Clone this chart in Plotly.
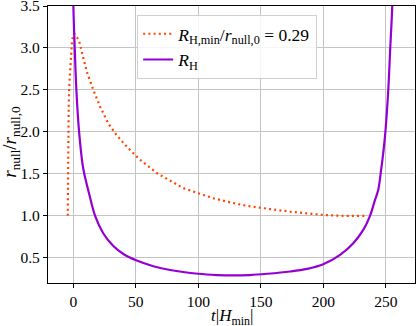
import plotly.graph_objects as go

# values
t_ratio = [-4.5, -4.4, -4.3, -4.1, -3.7, -3.2, -2.1, -1.0, 0.6, 2.2, 4.8, 6.7, 10.7, 16.0, 21.4,
           28.0, 34.7, 42.7, 52.8, 66.7, 77.4, 88.0, 100.0, 112.0, 125.4, 138.7, 157.4,
           173.4, 200.0, 216.0, 234.4]
r_ratio = [1.0, 1.3, 1.6, 2.0, 2.35, 2.58, 2.9, 3.1, 3.17, 3.15, 3.07, 2.96, 2.72, 2.5, 2.30,
           2.10, 1.96, 1.825, 1.675, 1.51, 1.417, 1.33, 1.27, 1.21, 1.16, 1.12, 1.08,
           1.05, 1.01, 1.0, 1.0]

t_rh = [-0.6, 0.0, 1.1, 2.4, 4.6, 7.5, 9.5, 12.0, 17.4, 24.0, 32.0, 40.0, 50.2, 64.0, 77.4,
        100.0, 115.0, 128.0, 141.0, 155.0, 173.4, 187.0, 199.5, 213.4, 224.0, 232.0,
        237.4, 241.4, 244.0, 246.3, 248.0, 249.7, 252.0, 253.6, 255.2, 256.3]
r_h = [4.2, 3.5, 3.0, 2.5, 2.0, 1.6, 1.45, 1.3, 1.0, 0.79, 0.64, 0.545, 0.47, 0.40, 0.355,
       0.31, 0.295, 0.29, 0.295, 0.31, 0.337, 0.368, 0.42, 0.536, 0.675, 0.833,
       1.0, 1.19, 1.31, 1.55, 1.75, 2.0, 2.5, 3.0, 3.5, 4.2]

x_title = "<i>t</i>|<i>H</i><sub>min</sub>|"
y_title = "<i>r</i><sub>null</sub>/<i>r</i><sub>null,0</sub>"

font = "Liberation Serif"

fig = go.Figure()
fig.add_trace(go.Scatter(
    x=t_ratio, y=r_ratio, mode="lines",
    line=dict(color="#ff4500", width=2.2, dash="2px,3.2px"),
    name="<i>R</i><sub>H,min</sub>/<i>r</i><sub>null,0</sub> = 0.29",
))
fig.add_trace(go.Scatter(
    x=t_rh, y=r_h, mode="lines",
    line=dict(color="#9400d3", width=2.2, shape="spline", smoothing=1.0),
    name="<i>R</i><sub>H</sub>",
))

axis_common = dict(
    showline=True, linecolor="black", linewidth=1.2, mirror=True,
    showgrid=True, gridcolor="#c4c4c4", gridwidth=1,
    ticks="outside", ticklen=4, tickcolor="black",
    tickfont=dict(family=font, size=15.5, color="black"),
    zeroline=False, automargin=False, ticklabeloverflow="allow",
)

fig.update_xaxes(range=[-20.3, 273.4], dtick=50, tick0=0, **axis_common)
fig.update_yaxes(range=[0.2, 3.5], dtick=0.5, tick0=0.5, tickformat=".1f", **axis_common)

# axis titles as annotations so they sit where the reference has them
fig.add_annotation(text=x_title, xref="paper", yref="paper", x=0.5, y=-0.122,
                   showarrow=False, xanchor="center", yanchor="middle",
                   font=dict(family=font, size=17, color="black"))
fig.add_annotation(text=y_title, xref="paper", yref="paper", x=-0.1, y=0.511,
                   showarrow=False, xanchor="center", yanchor="middle", textangle=-90,
                   font=dict(family=font, size=19, color="black"))

fig.update_layout(
    width=417, height=326,
    margin=dict(l=48, r=2, t=6, b=43),
    plot_bgcolor="white", paper_bgcolor="white",
    font=dict(family=font, size=15, color="black"),
    legend=dict(x=0.243, y=0.968, xanchor="left", yanchor="top",
                bgcolor="rgba(255,255,255,0.85)", bordercolor="#d0d0d0", borderwidth=1,
                font=dict(family=font, size=17.5), tracegroupgap=0,
                itemwidth=30),
    showlegend=True,
)

fig.write_html("out.html", config={"displayModeBar": False},
               post_script="document.body.style.margin='0px';")
